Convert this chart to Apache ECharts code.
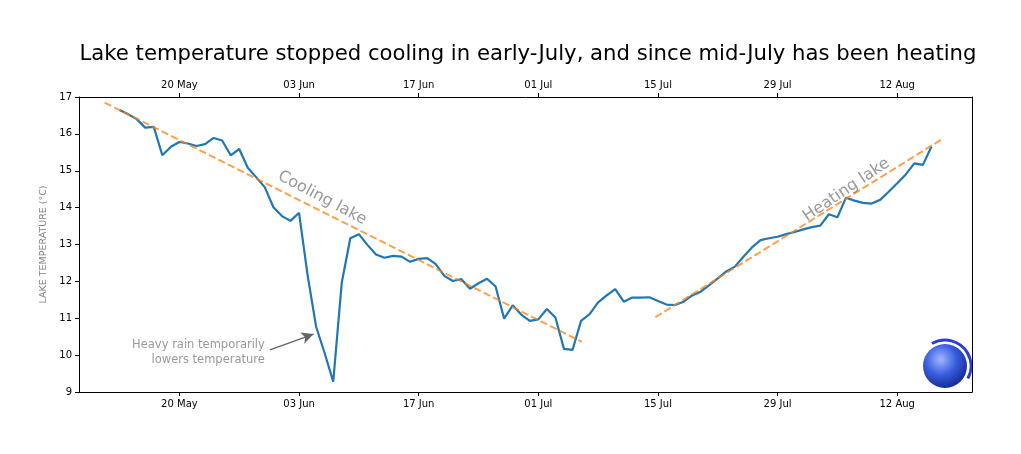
<!DOCTYPE html>
<html>
<head>
    <meta http-equiv="Content-Type" content="text/html; charset=UTF-8">
    <title>Lake temperature</title>
    <script src="https://cdn.jsdelivr.net/npm/echarts@6/dist/echarts.min.js"></script>
</head>
<body style="margin:0;background:#fff;">
    <div id="main" style="width:1021px;height:454px;"></div>

    <script type="text/javascript">
        // x = days since 20 May
        var firstDay = -7;   // 13 May
        var temps = [
            16.65, 16.53, 16.40, 16.17, 16.19, 15.42, 15.65, 15.78, 15.74, 15.67,
            15.72, 15.89, 15.82, 15.42, 15.59, 15.08, 14.82, 14.55, 14.01, 13.77,
            13.64, 13.86, 12.17, 10.77, 10.05, 9.28, 11.97, 13.17, 13.28, 12.99,
            12.73, 12.64, 12.69, 12.67, 12.53, 12.61, 12.63, 12.47, 12.15, 12.01,
            12.06, 11.80, 11.95, 12.07, 11.86, 10.99, 11.35, 11.10, 10.93, 10.97,
            11.25, 11.02, 10.17, 10.14, 10.93, 11.11, 11.43, 11.62, 11.79, 11.45,
            11.56, 11.56, 11.57, 11.47, 11.37, 11.36, 11.45, 11.62, 11.72, 11.90,
            12.08, 12.27, 12.40, 12.67, 12.92, 13.12, 13.17, 13.21, 13.28, 13.34,
            13.41, 13.47, 13.51, 13.82, 13.74, 14.27, 14.19, 14.13, 14.11, 14.21,
            14.43, 14.66, 14.90, 15.20, 15.16, 15.65
        ];
        var coolingTrend = [[-8.75, 16.85], [47.1, 10.36]];
        var heatingTrend = [[55.7, 11.03], [89.4, 15.88]];
        var tickDays = [0, 14, 28, 42, 56, 70, 84];
        var tickLabels = ['20 May', '03 Jun', '17 Jun', '01 Jul', '15 Jul', '29 Jul', '12 Aug'];
        var rainArrow = [[10.6, 10.14], [15.7, 10.57]];

        var lineData = temps.map(function (v, i) { return [firstDay + i, v]; });

        function dayLabel(v) {
            var i = tickDays.indexOf(Math.round(v));
            return i >= 0 ? tickLabels[i] : '';
        }

        var font = 'DejaVu Sans';
        var orange = 'rgba(255,127,14,0.75)';
        var gray = '#808080';

        var xAxisBase = {
            type: 'value',
            min: -11.75,
            max: 92.75,
            splitLine: { show: false },
            axisLine: { show: true, onZero: false, lineStyle: { color: '#000', width: 1 } },
            axisTick: { show: true, customValues: tickDays, length: 4, inside: false, lineStyle: { color: '#000' } },
            axisLabel: { customValues: tickDays, formatter: dayLabel, color: '#000', fontFamily: font, fontSize: 10, margin: 7 }
        };

        var myChart = echarts.init(document.getElementById('main'));
        myChart.setOption({
            animation: false,
            backgroundColor: '#fff',
            title: {
                text: 'Lake temperature stopped cooling in early-July, and since mid-July has been heating',
                left: 523, top: 39, textAlign: 'center',
                textStyle: { fontFamily: font, fontSize: 21.2, fontWeight: 'normal', color: '#000' }
            },
            grid: { left: 79, right: 49, top: 97, bottom: 62 },
            xAxis: [
                Object.assign({}, xAxisBase, { position: 'bottom' }),
                Object.assign({}, xAxisBase, { position: 'top' })
            ],
            yAxis: [{
                type: 'value',
                min: 9, max: 17, interval: 1,
                name: 'LAKE TEMPERATURE (°C)',
                nameLocation: 'middle',
                nameGap: 20,
                nameTextStyle: { color: gray, fontFamily: font, fontSize: 9.5 },
                splitLine: { show: false },
                axisLine: { show: true, onZero: false, lineStyle: { color: '#000', width: 1 } },
                axisTick: { show: true, length: 4, lineStyle: { color: '#000' } },
                axisLabel: { color: '#000', fontFamily: font, fontSize: 10, margin: 7 }
            }, {
                type: 'value', position: 'right', min: 9, max: 17,
                splitLine: { show: false }, axisTick: { show: false }, axisLabel: { show: false },
                axisLine: { show: true, onZero: false, lineStyle: { color: '#000', width: 1 } }
            }],
            series: [
                {
                    name: 'temperature', type: 'line', data: lineData,
                    showSymbol: false, symbol: 'none',
                    lineStyle: { color: '#1f77b4', width: 2.2 },
                    z: 3,
                    markLine: {
                        silent: true,
                        symbol: ['none', 'arrow'],
                        symbolSize: [9, 12],
                        label: { show: false },
                        lineStyle: { color: '#666', width: 1.4, type: 'solid' },
                        data: [[{ coord: rainArrow[0] }, { coord: rainArrow[1] }]]
                    }
                },
                {
                    name: 'cooling', type: 'line', data: coolingTrend, symbol: 'none',
                    lineStyle: { color: orange, width: 2, type: [7.4, 3.2] }, z: 4
                },
                {
                    name: 'heating', type: 'line', data: heatingTrend, symbol: 'none',
                    lineStyle: { color: orange, width: 2, type: [7.4, 3.2] }, z: 4
                },
                {
                    name: 'labels', type: 'scatter', symbolSize: 0, z: 6,
                    data: [
                        { value: [16.7, 14.26], label: { formatter: 'Cooling lake', rotate: -28, fontSize: 16, position: 'inside' } },
                        { value: [78.05, 14.48], label: { formatter: 'Heating lake', rotate: 34, fontSize: 16, position: 'inside' } },
                        { value: [10.0, 10.06], label: { formatter: 'Heavy rain temporarily\nlowers temperature', fontSize: 11.5, position: 'left', distance: 0, align: 'right', lineHeight: 15 } }
                    ],
                    label: { show: true, color: gray, fontFamily: font }
                }
            ],
            graphic: [
                {
                    type: 'circle', shape: { cx: 945, cy: 366, r: 22 },
                    style: {
                        fill: {
                            type: 'radial', x: 0.4, y: 0.35, r: 0.7,
                            colorStops: [{ offset: 0, color: '#9fb8ff' }, { offset: 0.5, color: '#3a5ee0' }, { offset: 1, color: '#12268f' }]
                        }
                    }
                },
                {
                    type: 'arc', shape: { cx: 945, cy: 366, r: 26, startAngle: -2.1, endAngle: 0.5 },
                    style: { stroke: '#2b3fd0', lineWidth: 3, fill: 'none' }
                }
            ]
        });
    </script>
</body>
</html>
